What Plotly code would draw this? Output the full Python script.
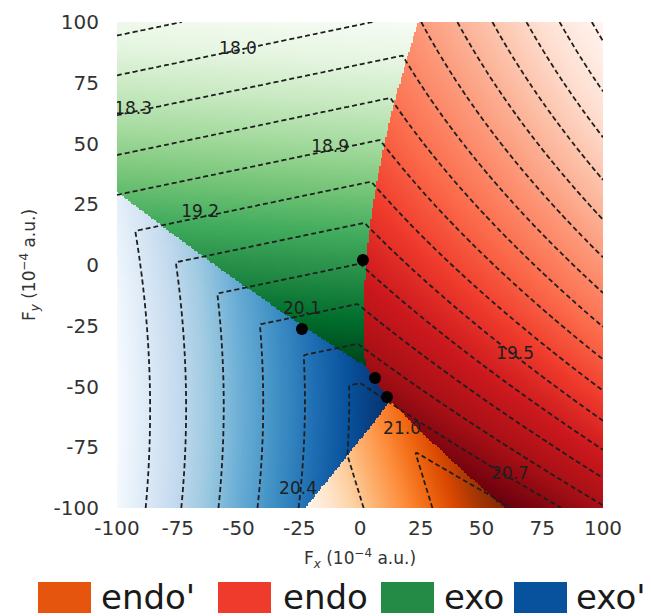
import numpy as np
import plotly.graph_objects as go

# ---------------- data ----------------
states = ["endo'", "endo", "exo", "exo'"]
legend_colors = ["#e6550d", "#ef3b2c", "#238b45", "#08519c"]
colorscales = ["Oranges", "Reds", "Greens", "Blues"]

# Field dependence of each state's energy:
# E(Fx, Fy) = c0 + c1*Fx + c2*Fy + c3*Fx^2 + c4*Fy^2 + c5*Fx*Fy
coef_endo_p = [21.01, 0.0106, 0.00326, 0.0, 0.0, 0.0]
coef_endo = [19.8087, -0.015296, -0.0167008, -2.152e-05, 3.481e-05, -3.475e-05]
coef_exo = [19.8101, 0.003822, -0.018297, 0.0, 0.0, 0.0]
coef_exo_p = [20.8407, 0.0155335, 0.00257262, -2.897e-05, 2.338e-05, -2.47e-06]
# offsets used when deciding which state colours a field point
region_offsets = [-0.23, 0.045, 0.0, -0.23]
# extra Fx tilt of the shading inside each region
shade_tilt_fx = [0.0, 0.0, -0.005, 0.0]

contour_start, contour_end, contour_step = 16.5, 21.3, 0.3

label_values = ["18.0", "18.3", "18.9", "19.2", "20.1", "19.5", "21.0", "20.7", "20.4"]
label_fx = [-50.2, -93.4, -12.3, -65.8, -23.9, 63.8, 17.3, 61.7, -25.5]
label_fy = [88.5, 63.8, 48.1, 21.4, -18.5, -37.0, -67.9, -86.4, -92.6]

point_fx = [1.2, -23.9, 6.2, 11.1]
point_fy = [2.1, -26.3, -46.5, -54.3]

tick_vals = [-100, -75, -50, -25, 0, 25, 50, 75, 100]
tick_text = ["-100", "-75", "-50", "-25", "0", "25", "50", "75", "100"]

# ---------------- field on a grid ----------------
fgrid = np.linspace(-100, 100, 321)
FX, FY = np.meshgrid(fgrid, fgrid)


def energy(c):
    return c[0] + c[1] * FX + c[2] * FY + c[3] * FX ** 2 + c[4] * FY ** 2 + c[5] * FX * FY


coefs = [coef_endo_p, coef_endo, coef_exo, coef_exo_p]
E = np.array([energy(c) for c in coefs])
score = E + np.array(region_offsets)[:, None, None]
region = np.argmin(score, axis=0)
Zmin = E.min(axis=0)
shade = E + np.array(shade_tilt_fx)[:, None, None] * FX[None]

fig = go.Figure()
for i in range(len(states)):
    z = np.where(region == i, shade[i], np.nan)
    fig.add_trace(go.Heatmap(
        x=fgrid, y=fgrid, z=z, colorscale=colorscales[i],
        zmin=float(np.nanmin(z)), zmax=float(np.nanmax(z)),
        showscale=False, hoverinfo="skip", name=states[i]))

fig.add_trace(go.Contour(
    x=fgrid, y=fgrid, z=Zmin,
    contours=dict(coloring="none", start=contour_start, end=contour_end, size=contour_step),
    line=dict(color="#1e1e1e", width=1.8, dash="5px,3px", smoothing=0),
    showscale=False, hoverinfo="skip"))

fig.add_trace(go.Scatter(
    x=label_fx, y=label_fy, mode="text", text=label_values,
    textfont=dict(family="DejaVu Sans", size=17, color="#1f1f1f"), hoverinfo="skip"))

fig.add_trace(go.Scatter(
    x=point_fx, y=point_fy, mode="markers",
    marker=dict(size=12, color="black"), hoverinfo="skip"))

# ---------------- layout ----------------
# the page body adds an 8 px margin, so the figure is drawn 8 px in from the window corner
PAGE = 8
WIN_W, WIN_H = 651, 616
PLOT_X0, PLOT_X1, PLOT_Y0, PLOT_Y1 = 117, 603, 22, 508   # plot area in window pixels
W, H = WIN_W - PAGE, WIN_H - PAGE
L, R = PLOT_X0 - PAGE, WIN_W - PLOT_X1
T, B = PLOT_Y0 - PAGE, WIN_H - PLOT_Y1
pw, ph = PLOT_X1 - PLOT_X0, PLOT_Y1 - PLOT_Y0


def wx(px):
    return (px - PLOT_X0) / pw


def wy(py):
    return (PLOT_Y1 - py) / ph


shapes, annotations = [], []
box_left = [38, 218, 381, 514]
text_left = [99, 281, 442, 574]
for i, name in enumerate(states):
    shapes.append(dict(type="rect", xref="paper", yref="paper",
                       x0=wx(box_left[i]), x1=wx(box_left[i] + 53),
                       y0=wy(613), y1=wy(582),
                       fillcolor=legend_colors[i], line=dict(width=0)))
    annotations.append(dict(xref="paper", yref="paper", x=wx(text_left[i]), y=wy(597),
                            text=name, showarrow=False, xanchor="left", yanchor="middle",
                            font=dict(family="DejaVu Sans", size=34, color="#1a1a1a")))

axis_common = dict(range=[-100, 100], tickvals=tick_vals, ticktext=tick_text,
                   showgrid=False, zeroline=False, showline=False, ticks="",
                   tickfont=dict(family="DejaVu Sans", size=20, color="#333333"),
                   automargin=False)

fig.update_layout(
    template="none", width=W, height=H,
    margin=dict(l=L, r=R, t=T, b=B),
    plot_bgcolor="white", paper_bgcolor="white", showlegend=False,
    font=dict(family="DejaVu Sans", color="#333333"),
    shapes=shapes, annotations=annotations,
    xaxis=dict(axis_common, ticklabelstandoff=6,
               title=dict(text="F<sub><i>x</i></sub> (10<sup>\u22124</sup> a.u.)",
                          font=dict(family="DejaVu Sans", size=17, color="#333333"), standoff=13)),
    yaxis=dict(axis_common, ticklabelstandoff=17,
               title=dict(text="F<sub><i>y</i></sub> (10<sup>\u22124</sup> a.u.)",
                          font=dict(family="DejaVu Sans", size=17, color="#333333"), standoff=13)),
)

fig.write_html("out.html")
